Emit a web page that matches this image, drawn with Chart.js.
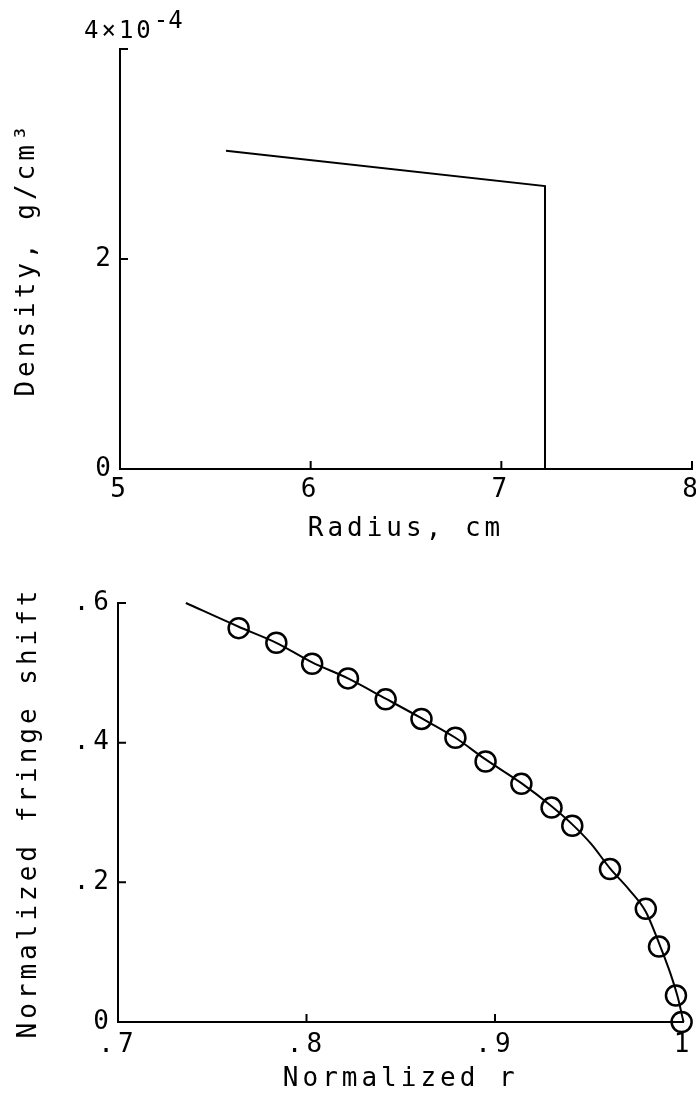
<!DOCTYPE html>
<html>
<head>
<meta charset="utf-8">
<script src="https://cdn.jsdelivr.net/npm/chart.js@4.4.1/dist/chart.umd.min.js"></script>
<style>
body{margin:0;background:#fff;}
#wrap{position:relative;width:696px;height:1095px;overflow:hidden;background:#fff;}
canvas{position:absolute;left:0;}
#exp{position:absolute;left:84px;top:17px;font:24px "DejaVu Sans Mono";line-height:26px;letter-spacing:3px;color:#000;white-space:nowrap;}
#exp span{position:relative;top:-10px;letter-spacing:0;}
</style>
</head>
<body>
<div id="wrap">
  <canvas id="densityChart" width="696" height="560" style="top:0"></canvas>
  <canvas id="fringeChart" width="696" height="535" style="top:560px"></canvas>
  <div id="exp">4×10<span>-4</span></div>
</div>
<script>
// top panel - density profile, values in units of 1e-4 g/cm3
var radiusCm = [5.556, 7.229, 7.229];
var density = [3.03, 2.695, 0];
var radiusTicks = [5, 6, 7, 8];
var densityTicks = [0, 2, 4];

// bottom panel - fitted curve and measured points
var fitR =     [0.736, 0.764, 0.784, 0.803, 0.822, 0.842, 0.861, 0.879, 0.895, 0.914, 0.930, 0.941, 0.951, 0.961, 0.971, 0.980, 0.987, 0.993, 0.997, 1.000];
var fitShift = [0.600, 0.566, 0.543, 0.515, 0.492, 0.463, 0.435, 0.407, 0.376, 0.342, 0.309, 0.283, 0.255, 0.220, 0.190, 0.158, 0.113, 0.070, 0.035, 0.000];
var measR =     [0.764, 0.784, 0.803, 0.822, 0.842, 0.861, 0.879, 0.895, 0.914, 0.930, 0.941, 0.961, 0.980, 0.987, 0.996, 0.999];
var measShift = [0.564, 0.543, 0.513, 0.492, 0.462, 0.434, 0.407, 0.373, 0.341, 0.307, 0.281, 0.219, 0.162, 0.108, 0.038, 0.000];
var rTicks = [0.7, 0.8, 0.9, 1.0];
var shiftTicks = [0, 0.2, 0.4, 0.6];

var FONT = {family: 'DejaVu Sans Mono', size: 26};

// plotter style: letter spaced text
var spacing = {
  id: 'spacing',
  beforeDraw: function (chart) { chart.ctx.letterSpacing = '4px'; }
};

// tick marks pointing into the plot
var inTicks = {
  id: 'inTicks',
  afterDraw: function (chart, args, opts) {
    var ctx = chart.ctx, a = chart.chartArea;
    ctx.save();
    ctx.strokeStyle = '#000';
    ctx.lineWidth = 2;
    ctx.beginPath();
    (opts.x || []).forEach(function (v) {
      var px = chart.scales.x.getPixelForValue(v);
      ctx.moveTo(px, a.bottom); ctx.lineTo(px, a.bottom - 8);
    });
    (opts.y || []).forEach(function (v) {
      var py = chart.scales.y.getPixelForValue(v);
      ctx.moveTo(a.left, py); ctx.lineTo(a.left + 8, py);
    });
    ctx.stroke();
    ctx.restore();
  }
};

function toPts(xs, ys) {
  return xs.map(function (x, i) { return {x: x, y: ys[i]}; });
}

function axis(min, max, ticks, fmt, size, title, titlePad, tickPad) {
  return {
    type: 'linear', min: min, max: max,
    afterBuildTicks: function (s) { s.ticks = ticks.map(function (v) { return {value: v}; }); },
    afterFit: function (s) {
      if (s.isHorizontal()) s.height = size; else s.width = size;
      s.paddingLeft = 0; s.paddingRight = 0; s.paddingTop = 0; s.paddingBottom = 0;
    },
    grid: {display: false, drawTicks: false, tickLength: 0, drawOnChartArea: false},
    border: {display: true, color: '#000', width: 2},
    ticks: {color: '#000', font: FONT, padding: tickPad, maxRotation: 0, autoSkip: false, callback: fmt},
    title: {display: true, text: title, color: '#000', font: FONT, padding: titlePad}
  };
}

new Chart(document.getElementById('densityChart'), {
  type: 'scatter',
  data: {
    datasets: [{
      data: toPts(radiusCm, density),
      showLine: true, borderColor: '#000', borderWidth: 2, pointRadius: 0, tension: 0
    }]
  },
  options: {
    responsive: false, animation: false,
    layout: {padding: {top: 49, right: 4, left: 0, bottom: 0}},
    plugins: {legend: {display: false}, tooltip: {enabled: false}, inTicks: {x: [6, 7, 8], y: [2, 4]}},
    scales: {
      x: axis(5, 8, radiusTicks, function (v) { return String(v); }, 91, 'Radius, cm', {top: 0, bottom: 15}, 6),
      y: axis(0, 4, densityTicks, function (v) { return v === 4 ? '' : String(v); }, 120, 'Density, g/cm³', {top: 12, bottom: 0}, 5)
    }
  },
  plugins: [spacing, inTicks]
});

new Chart(document.getElementById('fringeChart'), {
  type: 'scatter',
  data: {
    datasets: [{
      data: toPts(fitR, fitShift),
      showLine: true, borderColor: '#000', borderWidth: 2, pointRadius: 0,
      cubicInterpolationMode: 'monotone', clip: false
    }, {
      data: toPts(measR, measShift),
      showLine: false, borderColor: '#000', backgroundColor: 'rgba(0,0,0,0)',
      pointBorderWidth: 2.5, pointRadius: 10, clip: false
    }]
  },
  options: {
    responsive: false, animation: false,
    layout: {padding: {top: 43, right: 6, left: 0, bottom: 0}},
    plugins: {legend: {display: false}, tooltip: {enabled: false}, inTicks: {x: [0.8, 0.9], y: [0.2, 0.4, 0.6]}},
    scales: {
      x: axis(0.7, 1.0, rTicks, function (v) { return v > 0.99 ? '1' : v.toFixed(1).slice(1); }, 73, 'Normalized r', {top: 0, bottom: 0}, 8),
      y: axis(0, 0.6, shiftTicks, function (v) { return v < 0.01 ? '0' : v.toFixed(1).slice(1); }, 118, 'Normalized fringe shift', {top: 14, bottom: 0}, 5)
    }
  },
  plugins: [spacing, inTicks]
});
</script>
</body>
</html>
